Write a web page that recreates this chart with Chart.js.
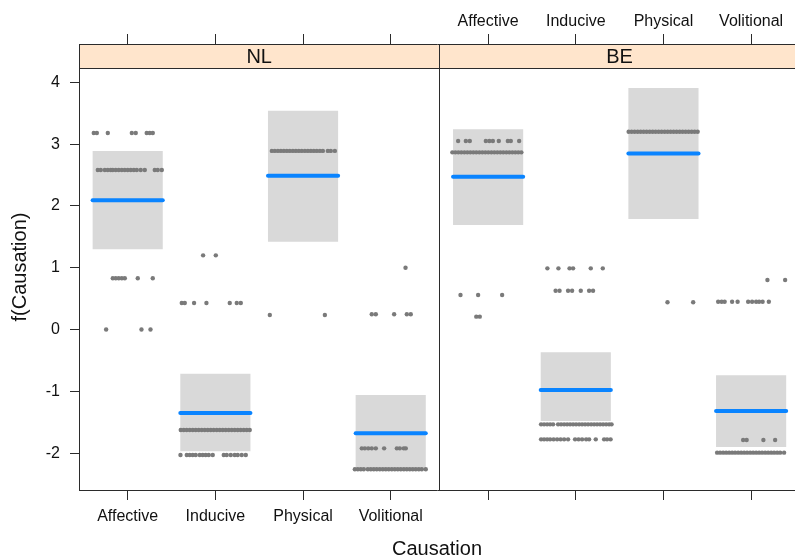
<!DOCTYPE html>
<html>
<head>
<meta charset="utf-8">
<script src="https://cdn.jsdelivr.net/npm/chart.js@4/dist/chart.umd.min.js"></script>
<style>
  html, body { margin: 0; padding: 0; background: #ffffff; overflow: hidden; }
  canvas { display: block; }
</style>
</head>
<body>
<canvas id="effects" width="795" height="559"></canvas>
<script>
// Effect of Causation on f(Causation), one panel per variety
const causation = ['Affective', 'Inducive', 'Physical', 'Volitional'];
const varieties = ['NL', 'BE'];
const yTicks = [-2, -1, 0, 1, 2, 3, 4];

// Fitted effects with confidence bounds
const fitNL   = [2.09, -1.35, 2.49, -1.68];
const lowerNL = [1.30, -1.97, 1.42, -2.26];
const upperNL = [2.89, -0.715, 3.54, -1.06];

const fitBE   = [2.47, -0.98, 2.85, -1.32];
const lowerBE = [1.69, -1.48, 1.79, -1.90];
const upperBE = [3.24, -0.37, 3.91, -0.74];

// Partial residuals: [value, jittered category positions]
const residNL = [
  [3.18, [0.613, 0.648, 0.773, 1.047, 1.092, 1.217, 1.252, 1.286]],
  [2.58, [0.659, 0.693, 0.739, 0.773, 0.807, 0.830, 0.864, 0.898, 0.933, 0.967, 1.001, 1.035, 1.070, 1.104, 1.149, 1.195, 1.309, 1.343, 1.389]],
  [0.83, [0.830, 0.864, 0.898, 0.933, 0.967, 1.115, 1.286]],
  [0.00, [0.754, 1.157, 1.260]],
  [1.20, [1.860, 2.005]],
  [0.43, [1.617, 1.651, 1.757, 1.898, 2.164, 2.244, 2.290]],
  [-1.626, [1.605, 1.639, 1.673, 1.708, 1.742, 1.776, 1.810, 1.845, 1.879, 1.913, 1.947, 1.981, 2.016, 2.050, 2.084, 2.118, 2.153, 2.187, 2.221, 2.255, 2.289, 2.324, 2.358, 2.392]],
  [-2.03, [1.602, 1.674, 1.708, 1.742, 1.776, 1.822, 1.856, 1.890, 1.925, 1.970, 2.096, 2.130, 2.176, 2.221, 2.255, 2.301, 2.347]],
  [2.89, [2.644, 2.678, 2.713, 2.747, 2.781, 2.815, 2.849, 2.884, 2.918, 2.952, 2.986, 3.021, 3.055, 3.089, 3.123, 3.157, 3.192, 3.226, 3.283, 3.317, 3.363]],
  [0.235, [2.621, 3.249]],
  [1.00, [4.169]],
  [0.246, [3.784, 3.830, 4.039, 4.184, 4.229]],
  [-1.923, [3.670, 3.705, 3.744, 3.784, 3.830, 3.925, 4.070, 4.104, 4.149, 4.172]],
  [-2.262, [3.591, 3.625, 3.659, 3.693, 3.739, 3.773, 3.807, 3.841, 3.876, 3.910, 3.944, 3.978, 4.013, 4.047, 4.081, 4.115, 4.150, 4.184, 4.218, 4.252, 4.286, 4.321, 4.355, 4.400]]
];

const residBE = [
  [3.05, [0.658, 0.746, 0.791, 0.974, 1.014, 1.054, 1.122, 1.225, 1.259, 1.354]],
  [2.867, [0.592, 0.626, 0.660, 0.694, 0.729, 0.763, 0.797, 0.831, 0.865, 0.900, 0.934, 0.968, 1.002, 1.037, 1.071, 1.105, 1.139, 1.173, 1.208, 1.242, 1.276, 1.310, 1.344, 1.379]],
  [0.558, [0.685, 0.886, 1.160]],
  [0.208, [0.865, 0.905]],
  [0.99, [1.676, 1.802, 1.929, 1.969, 2.171, 2.308]],
  [0.628, [1.770, 1.815, 1.912, 1.958, 2.057, 2.152, 2.197]],
  [-1.535, [1.604, 1.638, 1.673, 1.707, 1.741, 1.798, 1.832, 1.867, 1.901, 1.935, 1.969, 2.003, 2.038, 2.072, 2.106, 2.140, 2.175, 2.209, 2.243, 2.277, 2.311, 2.346, 2.380, 2.408]],
  [-1.777, [1.604, 1.638, 1.673, 1.707, 1.747, 1.787, 1.827, 1.867, 1.912, 1.992, 2.032, 2.072, 2.118, 2.152, 2.228, 2.323, 2.357, 2.397]],
  [3.20, [2.603, 2.637, 2.671, 2.706, 2.740, 2.774, 2.808, 2.843, 2.877, 2.911, 2.945, 2.979, 3.014, 3.048, 3.082, 3.116, 3.150, 3.185, 3.219, 3.253, 3.287, 3.322, 3.356, 3.390]],
  [0.44, [3.046, 3.339]],
  [0.80, [4.186, 4.388]],
  [0.45, [3.624, 3.664, 3.698, 3.783, 3.846, 3.966, 4.011, 4.057, 4.091, 4.131, 4.202]],
  [-1.788, [3.909, 3.949, 4.140, 4.274]],
  [-1.993, [3.612, 3.646, 3.681, 3.715, 3.749, 3.783, 3.817, 3.852, 3.886, 3.920, 3.954, 3.989, 4.023, 4.057, 4.091, 4.125, 4.160, 4.194, 4.228, 4.262, 4.297, 4.331, 4.376]]
];

// ---- layout of the two side-by-side panels on one shared x scale ----
const panelSpan = 4.111;              // width of one panel in category units
const xMin = 1 - (panelSpan - 3) / 2; // left edge of the NL panel
const panelEdge = xMin + panelSpan;   // boundary between NL and BE
const xMax = 8.6115;                  // visible right edge
const yMin = -2.597;
const panelTop = 4.232;               // top of the data region, strip sits above
const yMax = 4.62;
const halfBox = 0.4;

const frameColor = '#2b2b2b';
const textColor = '#111111';
const fontFamily = '"Liberation Sans", Arial, Helvetica, sans-serif';

const panels = [
  { fit: fitNL, lower: lowerNL, upper: upperNL, resid: residNL, shift: 0 },
  { fit: fitBE, lower: lowerBE, upper: upperBE, resid: residBE, shift: panelSpan }
];

const boxData = [];
const fitSets = [];
const pointData = [];
panels.forEach(p => {
  causation.forEach((c, k) => {
    const cx = k + 1 + p.shift;
    boxData.push({ x: cx, y: [p.lower[k], p.upper[k]] });
    fitSets.push({
      type: 'line',
      data: [{ x: cx - halfBox, y: p.fit[k] }, { x: cx + halfBox, y: p.fit[k] }],
      borderColor: '#0a84ff',
      borderWidth: 4,
      borderCapStyle: 'round',
      pointRadius: 0,
      order: 1
    });
  });
  p.resid.forEach(([value, xs]) => {
    xs.forEach(x => pointData.push({ x: x + p.shift, y: value }));
  });
});

const tickPositions = [];
[0, panelSpan].forEach(s => causation.forEach((c, k) => tickPositions.push(k + 1 + s)));

const panelStrips = {
  id: 'panelStrips',
  afterDatasetsDraw(chart) {
    const { ctx, chartArea: a, scales: { x, y } } = chart;
    const stripBottom = Math.round(y.getPixelForValue(panelTop)) + 0.5;
    const divider = Math.round(x.getPixelForValue(panelEdge)) + 0.5;
    ctx.save();
    ctx.fillStyle = '#ffe5cc';
    ctx.fillRect(a.left, a.top, a.right - a.left, stripBottom - a.top);
    ctx.strokeStyle = frameColor;
    ctx.lineWidth = 1;
    ctx.beginPath();
    ctx.moveTo(a.left, stripBottom);
    ctx.lineTo(a.right, stripBottom);
    ctx.moveTo(divider, a.top);
    ctx.lineTo(divider, a.bottom);
    ctx.stroke();
    ctx.fillStyle = textColor;
    ctx.font = '20px ' + fontFamily;
    ctx.textAlign = 'center';
    ctx.textBaseline = 'middle';
    varieties.forEach((v, i) => {
      const left = xMin + i * panelSpan;
      const cx = x.getPixelForValue(left + panelSpan / 2);
      ctx.fillText(v, cx, (a.top + stripBottom) / 2 + 1);
    });
    ctx.restore();
  }
};

const xAxisCommon = {
  type: 'linear',
  min: xMin,
  max: xMax,
  offset: false,
  afterBuildTicks: s => { s.ticks = tickPositions.map(v => ({ value: v })); },
  grid: { display: true, drawOnChartArea: false, drawTicks: true, tickLength: 10, tickColor: frameColor, offset: false },
  border: { display: true, color: frameColor, width: 1, z: 1 }
};

new Chart(document.getElementById('effects'), {
  type: 'bar',
  data: {
    datasets: [
      {
        type: 'line',
        data: pointData,
        showLine: false,
        pointRadius: 2.2,
        pointBorderWidth: 0,
        pointBackgroundColor: '#7a7a7a',
        order: 2
      },
      ...fitSets,
      {
        type: 'bar',
        data: boxData,
        backgroundColor: '#d9d9d9',
        borderWidth: 0,
        borderSkipped: false,
        categoryPercentage: 0.8,
        barPercentage: 1.0,
        order: 3
      }
    ]
  },
  options: {
    responsive: false,
    animation: false,
    devicePixelRatio: 1,
    layout: { padding: 0, autoPadding: false },
    font: { family: fontFamily },
    plugins: { legend: { display: false }, tooltip: { enabled: false }, title: { display: false } },
    scales: {
      x: {
        ...xAxisCommon,
        position: 'bottom',
        afterFit: s => { s.height = 69; s.paddingLeft = 0; s.paddingRight = 0; },
        ticks: {
          autoSkip: false, maxRotation: 0, padding: 7, color: textColor,
          font: { size: 16, family: fontFamily },
          callback: (v, i) => (i < 4 ? causation[i] : '')
        },
        title: {
          display: true, text: 'Causation', color: textColor,
          font: { size: 20, family: fontFamily, lineHeight: 1 },
          padding: { top: 0, bottom: 0 }
        }
      },
      x2: {
        ...xAxisCommon,
        position: 'top',
        afterFit: s => { s.height = 44; s.paddingLeft = 0; s.paddingRight = 0; },
        ticks: {
          autoSkip: false, maxRotation: 0, padding: 2.4, color: textColor,
          font: { size: 16, family: fontFamily },
          callback: (v, i) => (i >= 4 ? causation[i - 4] : '')
        }
      },
      y: {
        type: 'linear',
        position: 'left',
        min: yMin,
        max: yMax,
        afterFit: s => { s.width = 79; s.paddingTop = 0; s.paddingBottom = 0; },
        afterBuildTicks: s => { s.ticks = yTicks.map(v => ({ value: v })); },
        grid: { display: true, drawOnChartArea: false, drawTicks: true, tickLength: 9, tickColor: frameColor },
        border: { display: true, color: frameColor, width: 1, z: 1 },
        ticks: {
          padding: 10, color: textColor,
          font: { size: 16, family: fontFamily },
          callback: v => String(v)
        },
        title: {
          display: true, text: 'f(Causation)', color: textColor,
          font: { size: 20, family: fontFamily },
          padding: { top: 8, bottom: 0 }
        }
      }
    }
  },
  plugins: [panelStrips]
});
</script>
</body>
</html>
